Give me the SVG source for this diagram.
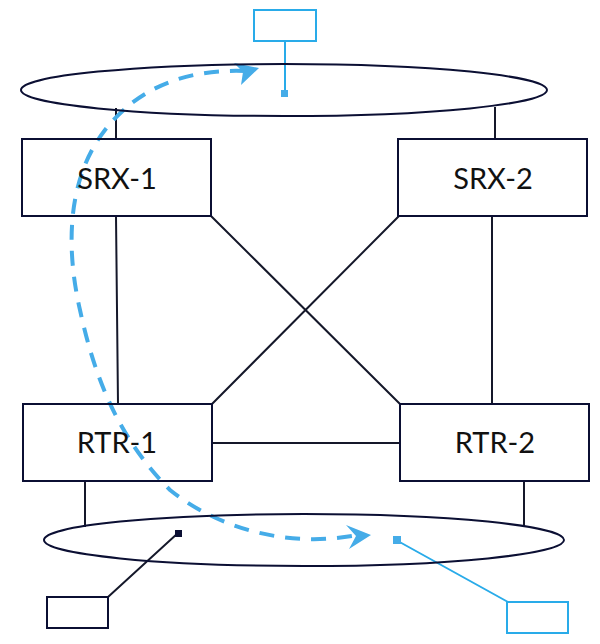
<svg xmlns="http://www.w3.org/2000/svg" width="600" height="644" viewBox="0 0 600 644">
<style>
.n{fill:none;stroke:#0b0f33;stroke-width:2}
.l{fill:none;stroke:#15182a;stroke-width:2}
.b{fill:none;stroke:#29abe9;stroke-width:2}
.d{fill:none;stroke:#45ace8;stroke-width:4;stroke-dasharray:15 11}
.a{fill:#45ace8}
text{font-family:"Lato","Open Sans",sans-serif;font-size:29px;fill:#111;text-anchor:middle}
</style>
<rect width="600" height="644" fill="#fff"/>
<g id="connectors">
<path class="l" d="M116 108V139M495 107V139M116 216L118 404M492 216V404M211 216L400 404M399 216L212 404M212 443H400M85 481V527M524 481V527M108 597L178 533"/>
<path class="b" d="M285 41V93M396 540L508 602"/>
<path class="d" d="M245 71C190 69 140 85 105 130C70 175 64 240 80 310C95 380 120 440 170 490C220 530 290 548 358 535"/>
<path class="a" d="M259 68L234 63L243 72L241 85Z"/>
<path class="a" d="M371 535L346 525L356 536L349 549Z"/>
</g>
<g id="lan-top"><ellipse class="n" cx="284" cy="90" rx="263" ry="26"/></g>
<g id="lan-bottom"><ellipse class="n" cx="304" cy="540" rx="260" ry="26"/></g>
<g id="srx-1"><rect class="n" x="22" y="139" width="189" height="77"/><text x="117" y="189">SRX-1</text></g>
<g id="srx-2"><rect class="n" x="398" y="139" width="189" height="77"/><text x="493" y="189">SRX-2</text></g>
<g id="rtr-1"><rect class="n" x="23" y="404" width="189" height="77"/><text x="117" y="453">RTR-1</text></g>
<g id="rtr-2"><rect class="n" x="400" y="404" width="189" height="77"/><text x="495" y="453">RTR-2</text></g>
<g id="host-top"><rect class="b" x="254" y="10" width="62" height="31"/></g>
<g id="host-left"><rect class="n" x="47" y="597" width="61" height="31"/></g>
<g id="host-right"><rect class="b" x="507" y="602" width="61" height="31"/></g>
<g id="port-top"><rect x="281" y="90" width="7" height="7" fill="#45ace8"/></g>
<g id="port-left"><rect x="175" y="530" width="7" height="7" fill="#0b0f33"/></g>
<g id="port-right"><rect x="393" y="536" width="8" height="8" fill="#45ace8"/></g>
</svg>
